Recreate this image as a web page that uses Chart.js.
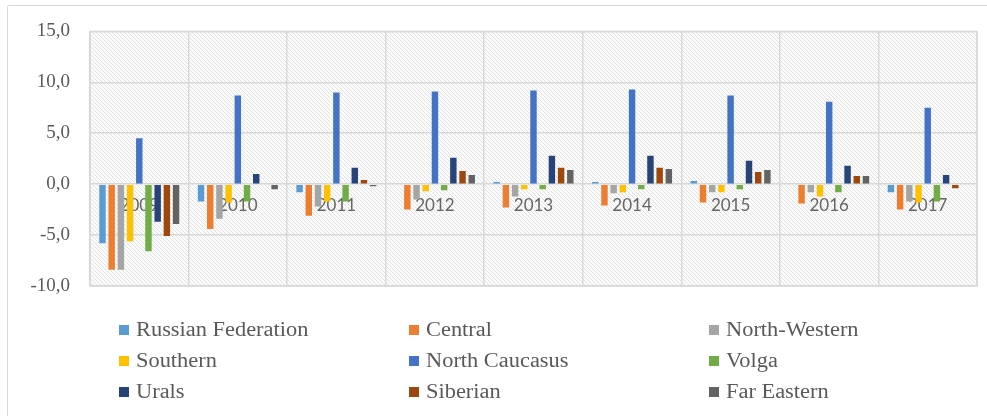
<!DOCTYPE html>
<html>
<head>
<meta charset="utf-8">
<script src="https://cdn.jsdelivr.net/npm/chart.js@4"></script>
<style>
  html, body { margin: 0; padding: 0; background: #ffffff; }
  #wrap { position: relative; width: 987px; height: 416px; overflow: hidden; }
  #frame { position: absolute; left: 7px; top: 5px; width: 1000px; height: 430px;
           border: 1px solid #d9d9d9; border-radius: 2px; box-sizing: border-box; }
  #c { position: absolute; left: 0; top: 0; }
</style>
</head>
<body>
<div id="wrap">
  <div id="frame"></div>
  <canvas id="c" width="987" height="416"></canvas>
</div>
<script>
// Years on the category axis
const years = ['2009', '2010', '2011', '2012', '2013', '2014', '2015', '2016', '2017'];

// Series names, in legend order
const regionNames = ['Russian Federation', 'Central', 'North-Western', 'Southern',
  'North Caucasus', 'Volga', 'Urals', 'Siberian', 'Far Eastern'];

// Values per region, one per year
const russianFederation = [-5.8, -1.7, -0.8, 0.0, 0.2, 0.2, 0.3, 0.0, -0.8];
const central           = [-8.4, -4.4, -3.1, -2.5, -2.3, -2.1, -1.8, -1.9, -2.5];
const northWestern      = [-8.4, -3.4, -2.2, -1.5, -1.2, -0.9, -0.8, -0.8, -1.7];
const southern          = [-5.6, -1.8, -1.7, -0.7, -0.5, -0.8, -0.8, -1.2, -1.8];
const northCaucasus     = [4.5, 8.7, 9.0, 9.1, 9.2, 9.3, 8.7, 8.1, 7.5];
const volga             = [-6.6, -1.7, -1.7, -0.6, -0.5, -0.5, -0.5, -0.8, -1.7];
const urals             = [-3.7, 1.0, 1.6, 2.6, 2.8, 2.8, 2.3, 1.8, 0.9];
const siberian          = [-5.1, 0.0, 0.4, 1.3, 1.6, 1.6, 1.2, 0.8, -0.4];
const farEastern        = [-3.9, -0.5, -0.2, 0.9, 1.4, 1.5, 1.4, 0.8, 0.0];

// Value axis ticks
const yTicks = [-10, -5, 0, 5, 10, 15];

const seriesValues = [russianFederation, central, northWestern, southern,
  northCaucasus, volga, urals, siberian, farEastern];
const seriesColors = ['#5B9BD5', '#ED7D31', '#A5A5A5', '#FFC000',
  '#4472C4', '#70AD47', '#264478', '#9E480E', '#636363'];

const TEXT_GRAY = '#595959';
const GRID_GRAY = '#d9d9d9';
const SERIF = '"Liberation Serif", "Times New Roman", serif';

// Light diagonal hatch used as the plot-area fill
function makeHatch() {
  const s = 4;
  const t = document.createElement('canvas');
  t.width = s; t.height = s;
  const tc = t.getContext('2d');
  const img = tc.createImageData(s, s);
  for (let y = 0; y < s; y++) {
    for (let x = 0; x < s; x++) {
      const on = ((x - y + s) % s) === 0;
      const v = on ? 226 : 251;
      const i = (y * s + x) * 4;
      img.data[i] = v; img.data[i + 1] = v; img.data[i + 2] = v; img.data[i + 3] = 255;
    }
  }
  tc.putImageData(img, 0, 0);
  return tc.createPattern(t, 'repeat');
}

const plotBackground = {
  id: 'plotBackground',
  beforeDraw(chart) {
    const { ctx, chartArea: a } = chart;
    ctx.save();
    ctx.fillStyle = makeHatch();
    ctx.fillRect(a.left, a.top, a.right - a.left, a.bottom - a.top);
    ctx.restore();
  },
  beforeDatasetsDraw(chart) {
    const { ctx, chartArea: a } = chart;
    ctx.save();
    ctx.strokeStyle = GRID_GRAY;
    ctx.lineWidth = 1.5;
    ctx.strokeRect(a.left, a.top, a.right - a.left, a.bottom - a.top);
    ctx.restore();
  }
};

// Three-column legend under the plot
const gridLegend = {
  id: 'gridLegend',
  afterDraw(chart) {
    const ctx = chart.ctx;
    const colX = [119, 409, 709];
    const rowY = [330, 361, 392];
    chart.data.datasets.forEach((ds, i) => {
      const x = colX[i % 3];
      const y = rowY[Math.floor(i / 3)];
      ctx.save();
      ctx.fillStyle = ds.backgroundColor;
      ctx.fillRect(x, y - 5, 10, 10);
      ctx.translate(x + 17, y + 1);
      ctx.scale(1.12, 1);
      ctx.font = '20px ' + SERIF;
      ctx.textBaseline = 'middle';
      ctx.textAlign = 'left';
      ctx.fillStyle = TEXT_GRAY;
      ctx.fillText(ds.label, 0, 0);
      ctx.restore();
    });
  }
};

new Chart(document.getElementById('c'), {
  type: 'bar',
  data: {
    labels: years,
    datasets: seriesValues.map((vals, i) => ({
      label: regionNames[i],
      data: vals,
      backgroundColor: seriesColors[i],
      borderWidth: 0,
      categoryPercentage: 0.84,
      barPercentage: 0.7
    }))
  },
  options: {
    responsive: false,
    animation: false,
    layout: { padding: { top: 28, right: 10, bottom: 130, left: 0 } },
    plugins: {
      legend: { display: false },
      tooltip: { enabled: false }
    },
    scales: {
      x: {
        type: 'category',
        position: { y: 0 },
        z: 1,
        offset: true,
        grid: { offset: true, color: GRID_GRAY, lineWidth: 1.5, drawTicks: false },
        border: { display: false },
        ticks: {
          color: '#666666',
          padding: 11,
          maxRotation: 0,
          font: { family: 'Lato, "Open Sans", sans-serif', size: 17 }
        }
      },
      y: {
        min: yTicks[0],
        max: yTicks[yTicks.length - 1],
        afterBuildTicks(scale) { scale.ticks = yTicks.map(v => ({ value: v })); },
        afterFit(scale) { scale.width = 90; },
        grid: { color: GRID_GRAY, lineWidth: 1.5, drawTicks: false },
        border: { display: true, color: GRID_GRAY, width: 1.5 },
        ticks: {
          color: TEXT_GRAY,
          padding: 20,
          font: { family: SERIF, size: 19 },
          callback: v => Number(v).toFixed(1).replace('.', ',')
        }
      }
    }
  },
  plugins: [plotBackground, gridLegend]
});
</script>
</body>
</html>
